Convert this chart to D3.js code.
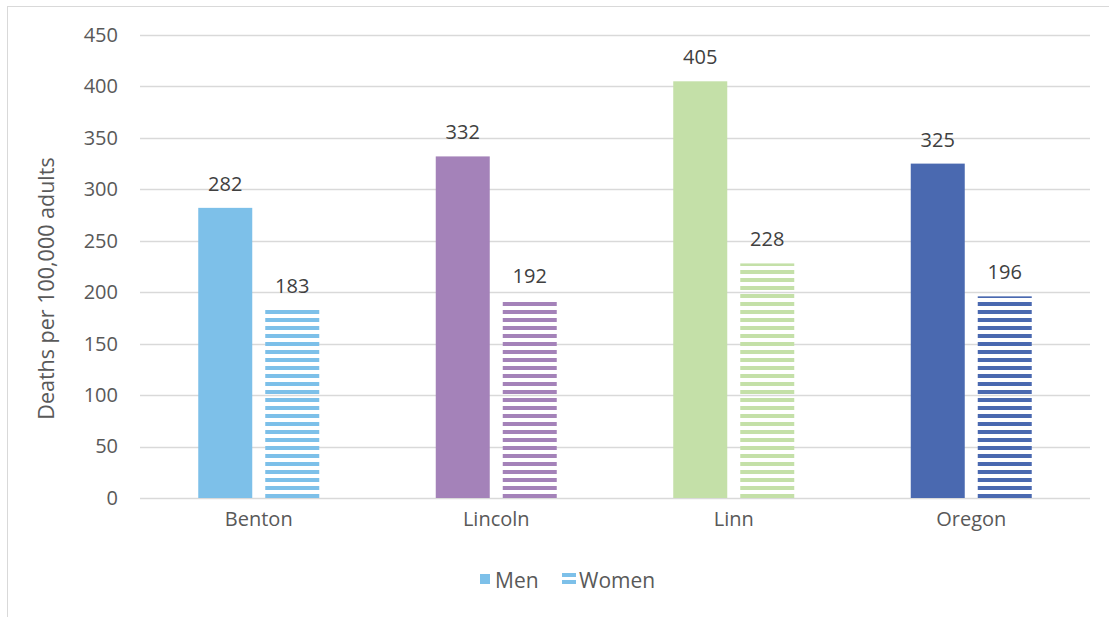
<!DOCTYPE html>
<html><head><meta charset="utf-8">
<script src="https://cdn.jsdelivr.net/npm/d3@7"></script>
<style>
body{margin:0;background:#fff;}
text{font-family:"Open Sans",sans-serif;fill:#595959;}
</style></head>
<body><svg id="c" width="1109" height="617"></svg>
<script>
const categories = ["Benton","Lincoln","Linn","Oregon"];
const men = [282,332,405,325];
const women = [183,192,228,196];
const colors = ["#7dc0e9","#a482b9","#c4e0a8","#4a69b0"];
const yTicks = [0,50,100,150,200,250,300,350,400,450];
const seriesNames = ["Men","Women"];

const svg = d3.select("#c");
const W=1109,H=617;
const m={left:140,right:19,top:35,bottom:119};
svg.append("rect").attr("x",7.5).attr("y",6.5).attr("width",W).attr("height",H).attr("fill","#fff").attr("stroke","#d9d9d9");

const x = d3.scaleBand().domain(categories).range([m.left,W-m.right]);
const y = d3.scaleLinear().domain([0,450]).range([H-m.bottom,m.top]);

const defs = svg.append("defs");
categories.forEach((c,i)=>{
  const p = defs.append("pattern").attr("id","p"+i).attr("patternUnits","userSpaceOnUse")
    .attr("width",8).attr("height",8).attr("y",y(0));
  p.append("rect").attr("x",0).attr("y",4).attr("width",8).attr("height",4).attr("fill",colors[i]);
});

// grid
const g = svg.append("g");
g.selectAll("line.grid").data(yTicks).join("line")
  .attr("x1",m.left).attr("x2",W-m.right)
  .attr("y1",d=>Math.round(y(d))+0.5).attr("y2",d=>Math.round(y(d))+0.5)
  .attr("stroke","#d9d9d9").attr("stroke-width",1.3);

const yAxis = d3.axisLeft(y).tickValues(yTicks).tickSize(0).tickPadding(22);
const ya = svg.append("g").attr("transform",`translate(${m.left},0)`).call(yAxis);
ya.select(".domain").remove();
ya.selectAll("text").style("font-size","20px").attr("fill","#595959").style("font-family","'Open Sans',sans-serif");

const xAxis = d3.axisBottom(x).tickSize(0).tickPadding(14);
const xa = svg.append("g").attr("transform",`translate(0,${y(0)})`).call(xAxis);
xa.select(".domain").remove();
xa.selectAll("text").style("font-size","20px").attr("fill","#595959").style("font-family","'Open Sans',sans-serif");

const bw=54, gap=13;
const off = (x.bandwidth()-(2*bw+gap))/2;

categories.forEach((c,i)=>{
  const vals=[men[i],women[i]];
  seriesNames.forEach((s,j)=>{
    const bx = x(c)+off+j*(bw+gap);
    svg.append("rect").attr("x",bx).attr("y",y(vals[j])).attr("width",bw)
      .attr("height",y(0)-y(vals[j])).attr("fill",j===0?colors[i]:`url(#p${i})`);
    svg.append("text").attr("x",bx+bw/2).attr("y",y(vals[j])-17)
      .attr("text-anchor","middle").style("font-size","20px").style("fill","#404040").text(vals[j]);
  });
});

svg.append("text").attr("transform",`translate(54,${(y(0)+y(450))/2+22}) rotate(-90)`)
  .attr("text-anchor","middle").style("font-size","21.5px").text("Deaths per 100,000 adults");

// legend
const lg = svg.append("g");
lg.append("rect").attr("x",480).attr("y",574).attr("width",10).attr("height",10).attr("fill",colors[0]);
lg.append("text").attr("x",495).attr("y",588).style("font-size","21px").text("Men");
lg.append("rect").attr("x",562).attr("y",573).attr("width",14).attr("height",4).attr("fill",colors[0]);
lg.append("rect").attr("x",562).attr("y",580).attr("width",14).attr("height",4).attr("fill",colors[0]);
lg.append("text").attr("x",579).attr("y",588).style("font-size","21px").text("Women");
</script></body></html>
